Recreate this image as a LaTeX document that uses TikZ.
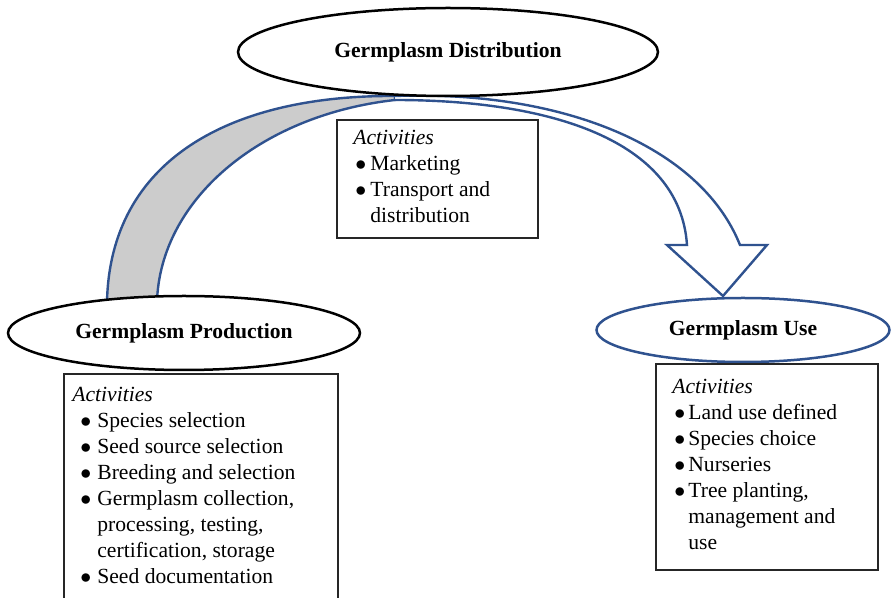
\documentclass[tikz,border=0pt]{standalone}
\usepackage{fontspec}
\setmainfont{Liberation Serif}
\usetikzlibrary{shapes.geometric}
\definecolor{flowblue}{RGB}{47,82,143}
\newcommand{\bitem}[2]{\hspace*{#1}\makebox[#2][l]{$\bullet$}}
\begin{document}
\begin{tikzpicture}
% 1 unit = 1 px of the 891x598 layout
[x=0.5pt,y=-0.5pt,
 phase/.style={ellipse,draw,fill=white,line width=1.25pt,inner sep=0pt,font=\fontsize{10.8}{13}\selectfont\bfseries},
 actbox/.style={draw=black!85,fill=white,line width=0.8pt,anchor=north west,inner sep=0pt},
 acttext/.style={anchor=north west,inner sep=0pt,align=left,font=\fontsize{10.8}{13}\selectfont},
 flow/.style={draw=flowblue,line width=1.2pt}]
\clip (0,0) rectangle (891,598);
% back half of the arc
\draw[flow,fill=black!20] (107,302) .. controls (110,160) and (230,95) .. (395,96) -- (395,100)
	.. controls (260,115) and (160,200) .. (157,302) -- cycle;
% front half, with the head
\draw[flow,fill=white] (395,96) .. controls (560,90) and (700,145) .. (740,245) -- (767,245) -- (723,296)
	-- (667,245) -- (687,245) .. controls (680,140) and (550,100) .. (395,100);
% the three phases
\node[phase,minimum width=210pt,minimum height=44pt] (dist) at (448,52) {Germplasm Distribution};
\node[phase,minimum width=176pt,minimum height=37pt] (prod) at (184,333) {Germplasm Production};
\node[phase,draw=flowblue,minimum width=146.5pt,minimum height=32pt] (use) at (743,330) {Germplasm Use};
% activity boxes
\node[actbox,minimum width=100.5pt,minimum height=59pt] (distbox) at (336,119) {};
\node[actbox,minimum width=137pt,minimum height=116pt] (prodbox) at (63,373) {};
\node[actbox,minimum width=111pt,minimum height=103pt] (usebox) at (655,363) {};
\node[acttext] (disttext) at ([shift={(17,11)}]distbox.north west) {\textit{Activities}\\
	\bitem{1pt}{7.5pt}Marketing\\
	\bitem{1pt}{7.5pt}Transport and\\
	\hspace*{8.5pt}distribution};
\node[acttext] (prodtext) at ([shift={(9,14)}]prodbox.north west) {\textit{Activities}\\
	\bitem{4pt}{8.5pt}Species selection\\
	\bitem{4pt}{8.5pt}Seed source selection\\
	\bitem{4pt}{8.5pt}Breeding and selection\\
	\bitem{4pt}{8.5pt}Germplasm collection,\\
	\hspace*{12.5pt}processing, testing,\\
	\hspace*{12.5pt}certification, storage\\
	\bitem{4pt}{8.5pt}Seed documentation};
\node[acttext] (usetext) at ([shift={(17,16)}]usebox.north west) {\textit{Activities}\\
	\bitem{1pt}{7pt}Land use defined\\
	\bitem{1pt}{7pt}Species choice\\
	\bitem{1pt}{7pt}Nurseries\\
	\bitem{1pt}{7pt}Tree planting,\\
	\hspace*{8pt}management and\\
	\hspace*{8pt}use};
\end{tikzpicture}
\end{document}
